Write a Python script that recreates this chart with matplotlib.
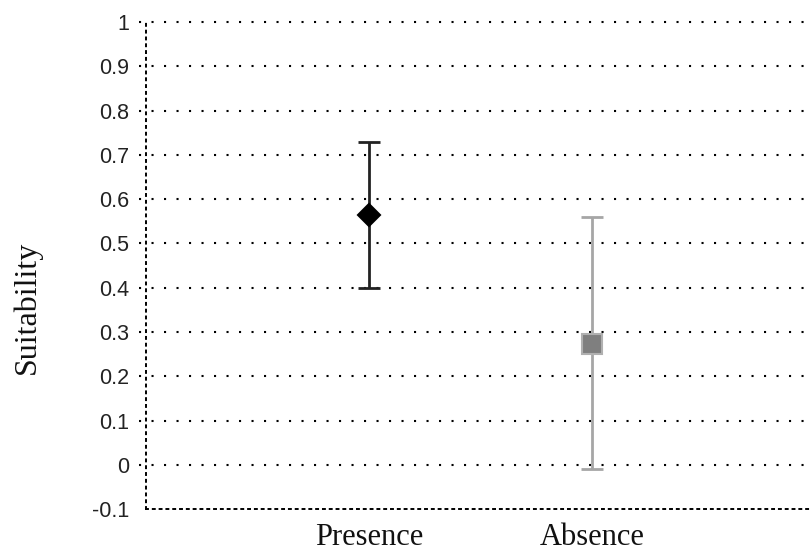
import matplotlib
matplotlib.use("Agg")
import matplotlib.pyplot as plt

groups = ["Presence", "Absence"]
means = [0.565, 0.272]
upper = [0.73, 0.56]
lower = [0.40, -0.01]
yticks = [-0.1, 0, 0.1, 0.2, 0.3, 0.4, 0.5, 0.6, 0.7, 0.8, 0.9, 1]
ytick_labels = ["-0.1", "0", "0.1", "0.2", "0.3", "0.4", "0.5", "0.6", "0.7", "0.8", "0.9", "1"]

fig = plt.figure(figsize=(8.11, 5.51), dpi=100)
ax = fig.add_axes([0.18, 0.076, 0.82, 0.884])

# dotted grid
for t in yticks[1:]:
    ax.axhline(t, xmin=-0.01, color="black", lw=1.5, ls=(0, (1, 5)),
               dash_capstyle="butt", clip_on=False, zorder=1)

styles = [
    dict(marker="D", ms=11, mfc="black", mec="black", ecolor="#222222"),
    dict(marker="s", ms=14, mfc="#7f7f7f", mec="#b0b0b0", ecolor="#a6a6a6"),
]
for i, (m, hi, lo) in enumerate(zip(means, upper, lower)):
    st = styles[i]
    ax.errorbar([i + 1], [m], yerr=[[m - lo], [hi - m]], fmt="none",
                ecolor=st["ecolor"], elinewidth=2, capsize=8, capthick=2, zorder=3)
    ax.plot([i + 1], [m], marker=st["marker"], ms=st["ms"], mfc=st["mfc"],
            mec=st["mec"], mew=1.5, ls="none", zorder=4)

ax.set_xlim(0, 2.98)
ax.set_ylim(-0.1, 1)
ax.set_yticks(yticks)
ax.set_yticklabels(ytick_labels, family="Liberation Sans", fontsize=15.5, color="#222222")
ax.set_xticks([1, 2])
ax.set_xticklabels(groups, family="Liberation Serif", fontsize=22, color="#111111")
ax.tick_params(axis="x", length=0, pad=10)
ax.tick_params(axis="y", length=0, pad=12)

for s in ["top", "right"]:
    ax.spines[s].set_visible(False)
ax.spines["left"].set_linestyle((0, (1, 2.5)))
ax.spines["left"].set_linewidth(1.4)
ax.spines["bottom"].set_linestyle((0, (1, 2.5)))
ax.spines["bottom"].set_linewidth(1.4)

ax.set_ylabel("Suitability", family="Liberation Serif", fontsize=23, color="#111111")
ax.yaxis.set_label_coords(-0.156, 0.415)

fig.savefig("out.png", dpi=100)
